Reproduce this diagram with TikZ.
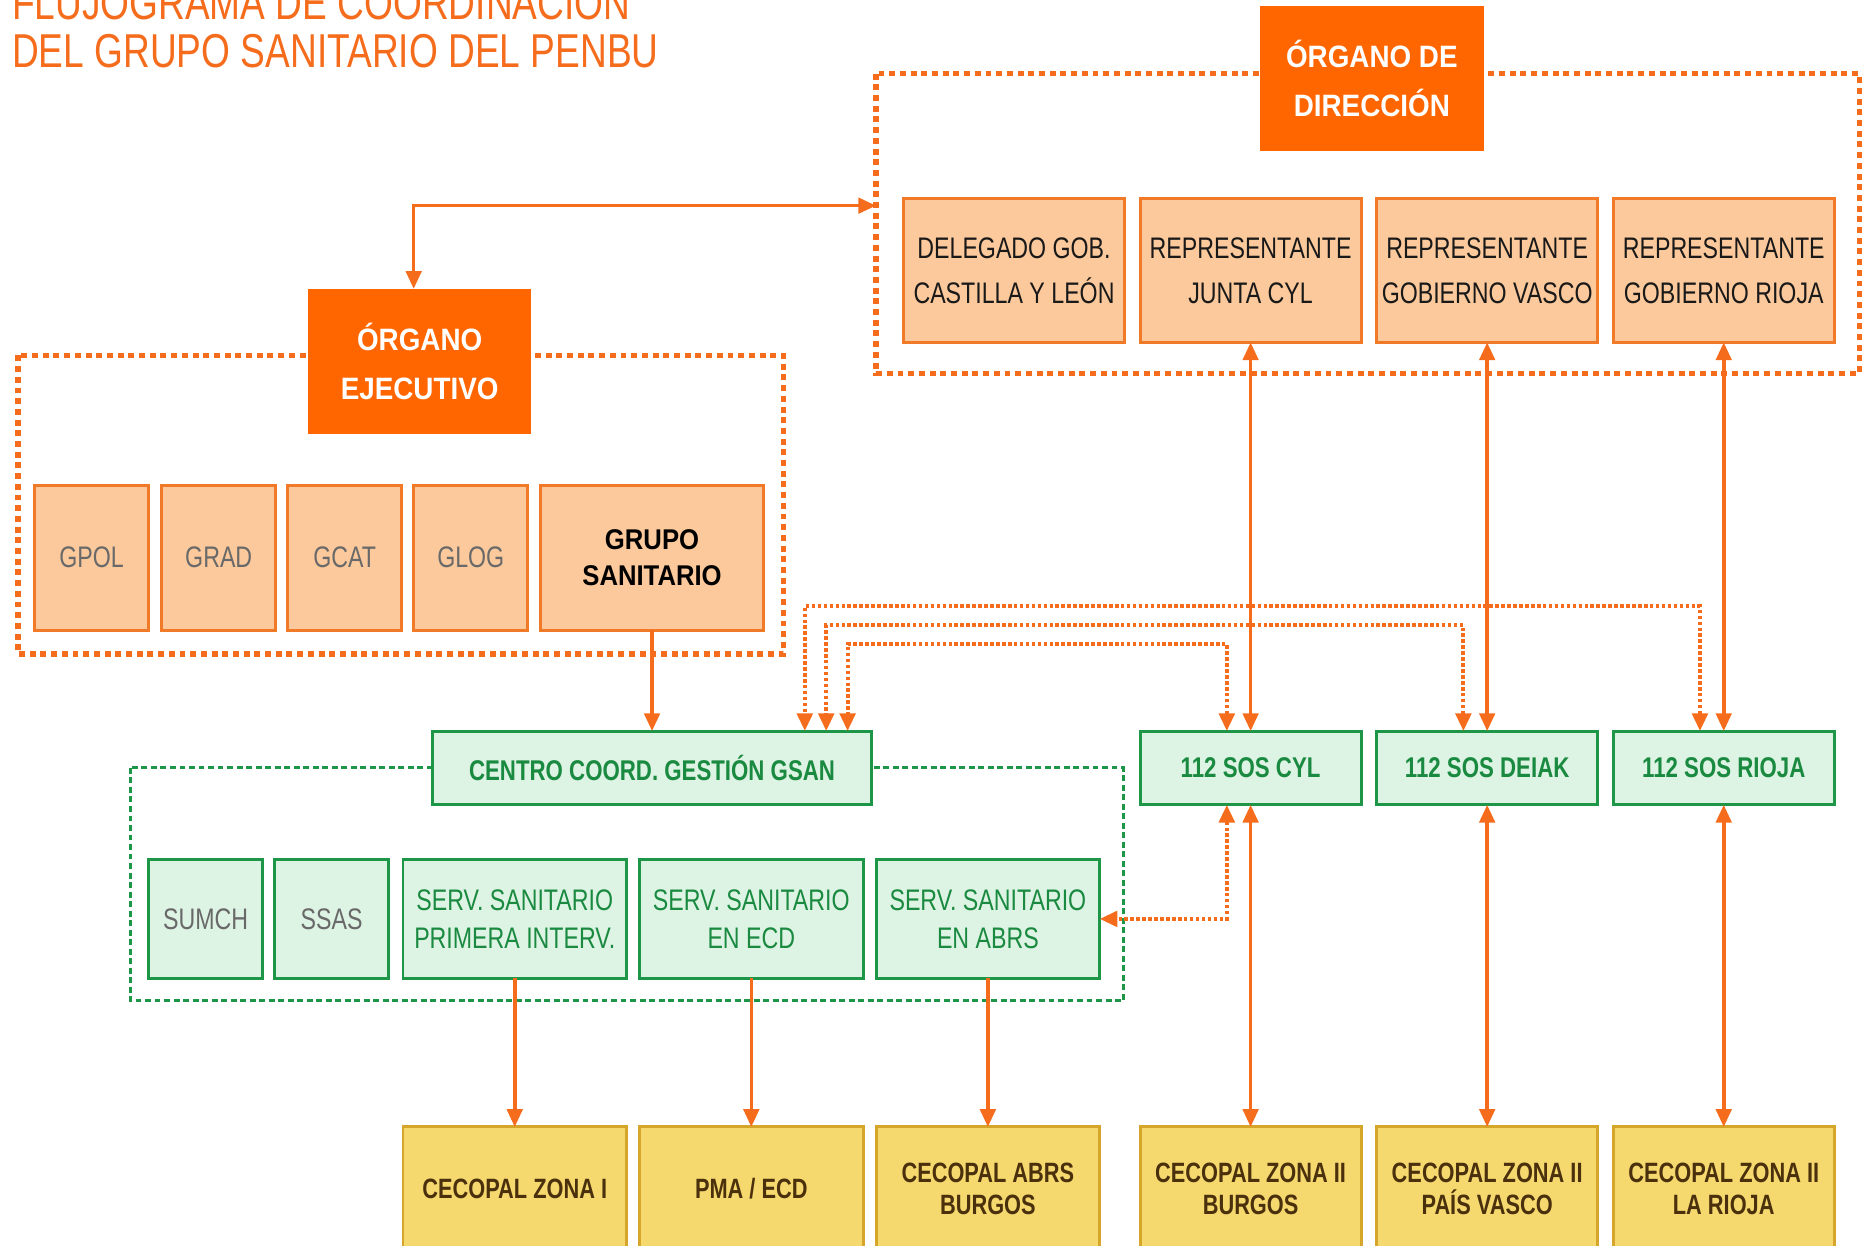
\documentclass[tikz,border=0pt]{standalone}
\usepackage{fontspec}
\setmainfont{Liberation Sans}[FakeStretch=0.78]
\newfontfamily\organofont{Liberation Sans}[FakeStretch=0.9]
\usetikzlibrary{arrows.meta}
\usetikzlibrary{positioning}
\definecolor{naranja}{RGB}{255,102,0}
\definecolor{flecha}{RGB}{245,108,28}
\definecolor{salmon}{RGB}{251,201,155}
\definecolor{bordesalmon}{RGB}{240,122,40}
\definecolor{verde}{RGB}{30,150,72}
\definecolor{verdeclaro}{RGB}{221,243,228}
\definecolor{textoverde}{RGB}{26,138,64}
\definecolor{amarillo}{RGB}{246,217,110}
\definecolor{bordeamarillo}{RGB}{214,166,42}
\definecolor{marron}{RGB}{74,48,12}
\definecolor{gris}{RGB}{105,105,105}

\begin{document}
\begin{tikzpicture}[x=1pt,y=-1pt]
\tikzstyle{lien}=[line width=3pt,draw=flecha,>={Triangle[length=15pt,width=13pt]}]
\tikzstyle{pointille}=[lien,line width=3.5pt,dash pattern=on 3pt off 2pt]
\tikzstyle{cadre}=[draw=flecha,line width=4.5pt,dash pattern=on 5pt off 4pt]
\tikzstyle{cadreverde}=[draw=verde,line width=2.5pt,dash pattern=on 5pt off 3pt]
\tikzset{caja/.style={draw=#1,line width=2.5pt,outer sep=0pt,inner sep=2pt,align=center},
caja/.default={bordesalmon},
organo/.style={fill=naranja,text=white,outer sep=0pt,align=center,minimum width=188pt,minimum height=122pt,font=\organofont\bfseries\fontsize{26}{41}\selectfont},
rep/.style={caja,fill=salmon,text=black!90,minimum width=186pt,minimum height=121pt,font=\fontsize{25}{38}\selectfont},
grupo/.style={caja,fill=salmon,text=gris,minimum width=96pt,minimum height=122pt,font=\fontsize{25}{30}\selectfont},
serv/.style={caja=verde,fill=verdeclaro,text=textoverde,minimum width=188pt,minimum height=100pt,font=\fontsize{25}{32}\selectfont},
sos/.style={caja=verde,fill=verdeclaro,text=textoverde,minimum width=186pt,minimum height=62pt,font=\bfseries\fontsize{24}{30}\selectfont},
cecopal/.style={caja=bordeamarillo,fill=amarillo,text=marron,minimum width=188pt,minimum height=104pt,font=\bfseries\fontsize{23.5}{27}\selectfont}}
\useasboundingbox (0,0) rectangle (1568,1048);
\node[anchor=south west,inner sep=0pt,align=left,text=flecha,font=\fontsize{40}{40}\selectfont] (titulo) at (10,57) {FLUJOGRAMA DE COORDINACIÓN\\DEL GRUPO SANITARIO DEL PENBU};
\draw[cadre] (737,62) rectangle (1564,314);
\draw[cadre] (15,299) rectangle (659,550);
\draw[cadreverde] (110,646) rectangle (945,842);
\coordinate (entrada) at (737,173);
\node[organo] (dir) at (1154,66) {ÓRGANO DE\\DIRECCIÓN};
\node[organo] (ejec) at (353,304) {ÓRGANO\\EJECUTIVO};
\node[rep] (rep1) at (853,227.5) {DELEGADO GOB.\\CASTILLA Y LEÓN};
\node[rep,right=13pt of rep1] (rep2) {REPRESENTANTE\\JUNTA CYL};
\node[rep,right=13pt of rep2] (rep3) {REPRESENTANTE\\GOBIERNO VASCO};
\node[rep,right=13pt of rep3] (rep4) {REPRESENTANTE\\GOBIERNO RIOJA};
\node[grupo] (gpol) at (77,469) {GPOL};
\node[grupo,right=11pt of gpol] (grad) {GRAD};
\node[grupo,right=10pt of grad] (gcat) {GCAT};
\node[grupo,right=10pt of gcat] (glog) {GLOG};
\node[grupo,right=11pt of glog,minimum width=187pt,text=black,font=\organofont\bfseries\fontsize{24}{30}\selectfont] (gsan) {GRUPO\\SANITARIO};
\node[sos,below=85pt of gsan,minimum width=369pt] (centro) {CENTRO COORD. GESTIÓN GSAN};
\node[sos,below=327pt of rep2] (sos1) {112 SOS CYL};
\node[sos,below=327pt of rep3] (sos2) {112 SOS DEIAK};
\node[sos,below=327pt of rep4] (sos3) {112 SOS RIOJA};
\node[serv,minimum width=96pt,text=gris] (sumch) at (173,773) {SUMCH};
\node[serv,minimum width=96pt,text=gris,right=10pt of sumch] (ssas) {SSAS};
\node[serv,right=12pt of ssas] (serv1) {SERV. SANITARIO\\PRIMERA INTERV.};
\node[serv,right=11pt of serv1] (serv2) {SERV. SANITARIO\\EN ECD};
\node[serv,right=11pt of serv2] (serv3) {SERV. SANITARIO\\EN ABRS};
\node[cecopal,below=125pt of serv1] (cec1) {CECOPAL ZONA I};
\node[cecopal,below=125pt of serv2] (cec2) {PMA / ECD};
\node[cecopal,below=125pt of serv3] (cec3) {CECOPAL ABRS\\BURGOS};
\node[cecopal,below=271pt of sos1,minimum width=186pt] (cec4) {CECOPAL ZONA II\\BURGOS};
\node[cecopal,below=271pt of sos2,minimum width=186pt] (cec5) {CECOPAL ZONA II\\PAÍS VASCO};
\node[cecopal,below=271pt of sos3,minimum width=186pt] (cec6) {CECOPAL ZONA II\\LA RIOJA};
\draw[lien,<->] ([xshift=-5pt]ejec.north) |- (entrada);
\draw[lien,->] (gsan.south) -- (centro.north);
\foreach \i/\j in {2/1,3/2,4/3}
\draw[lien,<->] (rep\i.south) -- (sos\j.north);
\foreach \i/\j in {1/4,2/5,3/6}
\draw[lien,<->] (sos\i.south) -- (cec\j.north);
\foreach \i in {1,2,3}
\draw[lien,->] (serv\i.south) -- (cec\i.north);
\foreach \i/\h/\d in {1/73/164.5,2/89/146.5,3/105/128.5}
\draw[pointille,<->] ([xshift=-20pt]sos\i.north) -- ++(0,-\h) -| ([xshift=\d pt]centro.north);
\draw[pointille,<->] ([xshift=-20pt]sos1.south) |- (serv3.east);
\end{tikzpicture}
\end{document}
